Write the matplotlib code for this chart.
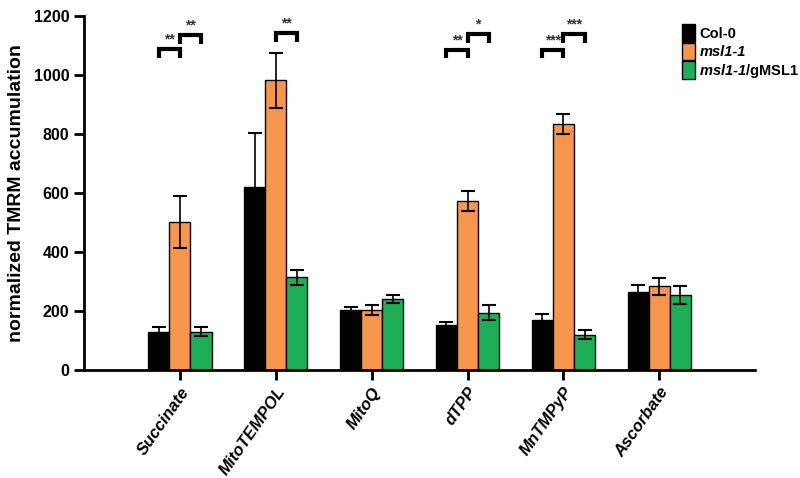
import numpy as np
import matplotlib.pyplot as plt

plt.rcParams["font.family"] = ["Liberation Sans", "DejaVu Sans"]
plt.rcParams["font.weight"] = "bold"
plt.rcParams["mathtext.fontset"] = "custom"
plt.rcParams["mathtext.rm"] = "Liberation Sans:bold"
plt.rcParams["mathtext.bfit"] = "Liberation Sans:bold:italic"
plt.rcParams["mathtext.it"] = "Liberation Sans:bold:italic"

CATEGORIES = ["Succinate", "MitoTEMPOL", "MitoQ", "dTPP", "MnTMPyP", "Ascorbate"]
SERIES = ["Col-0", "msl1-1", r"$\mathbfit{msl1}$-$\mathbfit{1}$/gMSL1"]
COLORS = ["#000000", "#F7964A", "#1DAF55"]

col0 = [130, 622, 205, 151, 171, 264]
col0_err = [15, 182, 8, 13, 20, 25]
msl = [503, 982, 204, 573, 835, 284]
msl_err = [88, 93, 17, 33, 34, 29]
gmsl = [130, 314, 240, 194, 120, 254]
gmsl_err = [15, 25, 14, 25, 15, 30]

# (category, bar a, bar b, bracket height, label)
SIG = [
    (0, 0, 1, 1088, "**"), (0, 1, 2, 1135, "**"),
    (1, 1, 2, 1143, "**"),
    (3, 0, 1, 1086, "**"), (3, 1, 2, 1139, "*"),
    (4, 0, 1, 1086, "***"), (4, 1, 2, 1139, "***"),
]

values = [col0, msl, gmsl]
errors = [col0_err, msl_err, gmsl_err]

fig = plt.figure(figsize=(8, 4.78), dpi=100)
ax = fig.add_axes([0.105, 0.226, 0.839, 0.7405])

x = np.arange(len(CATEGORIES))
w = 0.22
for i, (v, e) in enumerate(zip(values, errors)):
    pos = x + (i - 1) * w
    ax.bar(pos, v, width=w, color=COLORS[i], edgecolor="black", linewidth=1.0,
           label=SERIES[i], zorder=2)
    ax.errorbar(pos, v, yerr=e, fmt="none", ecolor="black", elinewidth=1.2,
                capsize=5, capthick=1.5, zorder=3)

leg_h = 30
for cat, a, b, h, lab in SIG:
    xa = cat + (a - 1) * w
    xb = cat + (b - 1) * w
    ax.plot([xa, xa, xb, xb], [h - leg_h, h, h, h - leg_h], color="black",
            lw=3, solid_joinstyle="miter", solid_capstyle="butt", zorder=4,
            clip_on=False)
    ax.text((xa + xb) / 2, h + 8, lab, ha="center", va="bottom", fontsize=10,
            color="#333333", fontweight="bold")

ax.set_xlim(-1, 6)
ax.set_ylim(0, 1200)
ax.set_yticks(range(0, 1201, 200))
ax.set_xticks(x)
ax.set_xticklabels(CATEGORIES, rotation=55, ha="right", rotation_mode="anchor",
                   fontsize=12, fontweight="bold", fontstyle="italic")
ax.tick_params(axis="y", labelsize=11.5, width=2, length=7)
ax.tick_params(axis="x", width=2, length=7)
for lbl in ax.get_yticklabels():
    lbl.set_fontweight("bold")
ax.spines["top"].set_visible(False)
ax.spines["right"].set_visible(False)
ax.spines["left"].set_linewidth(2)
ax.spines["bottom"].set_linewidth(2)
ax.set_ylabel("normalized TMRM accumulation", fontsize=14, fontweight="bold",
              labelpad=6)

leg = ax.legend(loc="upper left", bbox_to_anchor=(0.845, 0.962),
                bbox_transform=fig.transFigure, frameon=False,
                handlelength=0.9, handleheight=1.5, labelspacing=0.05,
                handletextpad=0.3, borderaxespad=0, fontsize=10.5)
leg.get_texts()[1].set_fontstyle("italic")

fig.savefig("out.png", dpi=100)
